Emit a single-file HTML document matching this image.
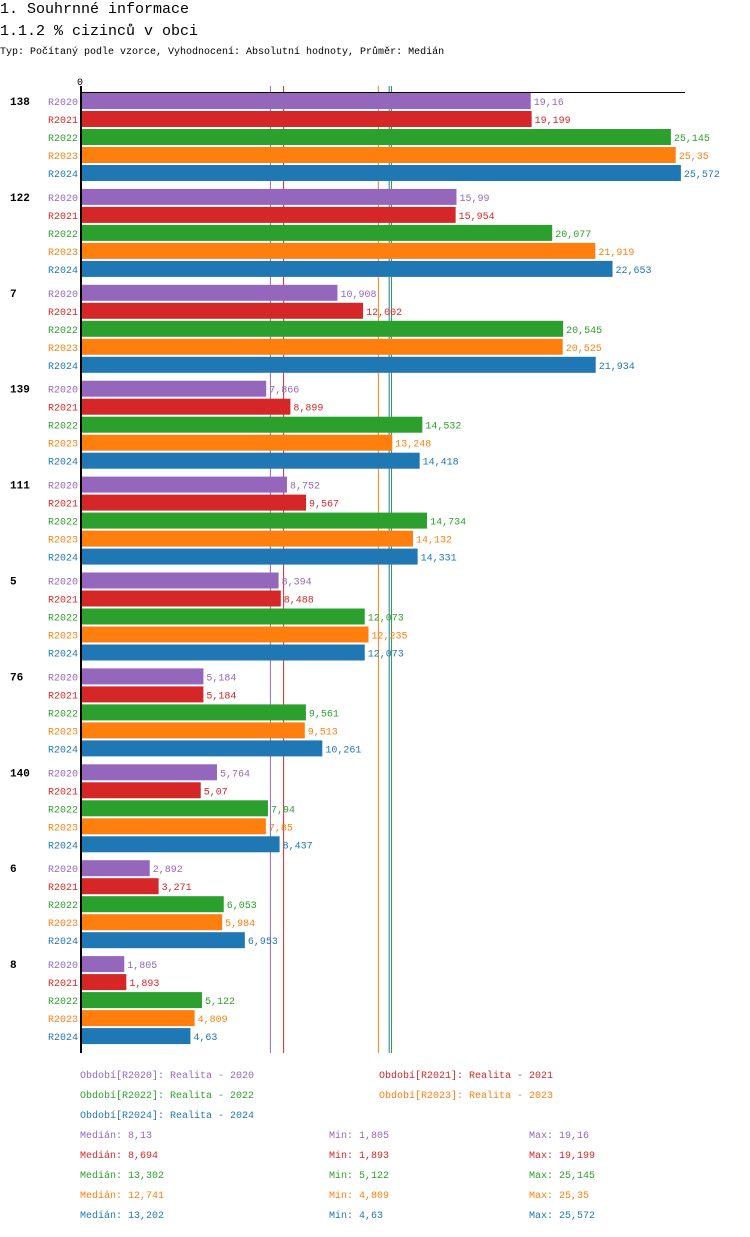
<!DOCTYPE html>
<html><head><meta charset="utf-8"><style>
body{margin:0;background:#fff;width:750px;height:1232px;overflow:hidden;font-family:"Liberation Mono",monospace;}
svg text{font-family:"Liberation Mono",monospace;}
</style></head><body>
<svg id="chart" width="750" height="1232" xmlns="http://www.w3.org/2000/svg">
<text x="0" y="13" font-size="15">1. Souhrnné informace</text>
<text x="0" y="35" font-size="15">1.1.2 % cizinců v obci</text>
<text x="0" y="54" font-size="10">Typ: Počítaný podle vzorce, Vyhodnocení: Absolutní hodnoty, Průměr: Medián</text>
<g id="plot"></g>
</svg>
<script>
const categories=["138","122","7","139","111","5","76","140","6","8"];
const seriesNames=["R2020","R2021","R2022","R2023","R2024"];
const seriesColors=["#9467bd","#d62728","#2ca02c","#ff7f0e","#1f77b4"];
const r2020=[19.16,15.99,10.908,7.866,8.752,8.394,5.184,5.764,2.892,1.805];
const r2021=[19.199,15.954,12.002,8.899,9.567,8.488,5.184,5.07,3.271,1.893];
const r2022=[25.145,20.077,20.545,14.532,14.734,12.073,9.561,7.94,6.053,5.122];
const r2023=[25.35,21.919,20.525,13.248,14.132,12.235,9.513,7.85,5.984,4.809];
const r2024=[25.572,22.653,21.934,14.418,14.331,12.073,10.261,8.437,6.953,4.63];
const medians=[8.13,8.694,13.302,12.741,13.202];
const mins=[1.805,1.893,5.122,4.809,4.63];
const maxs=[19.16,19.199,25.145,25.35,25.572];
const legendLabels=["Období[R2020]: Realita - 2020","Období[R2021]: Realita - 2021","Období[R2022]: Realita - 2022","Období[R2023]: Realita - 2023","Období[R2024]: Realita - 2024"];

const series=[r2020,r2021,r2022,r2023,r2024];
const NS="http://www.w3.org/2000/svg";
const g=document.getElementById('plot');
const x0=82, k=23.42;
const xs=v=>x0+v*k;
const groupY=i=>93+i*95.9;
const barY=(i,s)=>groupY(i)+s*18;
const fmt=v=>String(v).replace('.',',');
function el(tag,attrs,txt){const e=document.createElementNS(NS,tag);for(const a in attrs)e.setAttribute(a,attrs[a]);if(txt!==undefined)e.textContent=txt;g.appendChild(e);return e;}

const t0=el('text',{x:77,y:85,'font-size':10},'0');



medians.forEach((m,s)=>{
  const l=el('line',{x1:xs(m)-2,x2:xs(m)-2,y1:86,y2:1053,stroke:seriesColors[s],'stroke-width':1});
  
  
});

categories.forEach((c,i)=>{
  const gl=el('text',{x:10,y:groupY(i)+12,'font-size':11,'font-weight':'bold'},c);
  
  
  series.forEach((arr,s)=>{
    const y=barY(i,s);
    const sl=el('text',{x:78,y:y+12,'font-size':10,'text-anchor':'end',fill:seriesColors[s]},seriesNames[s]);
    
    
    const r=el('rect',{x:x0,y:y,width:xs(arr[i])-x0,height:16,fill:seriesColors[s]});
    
    
    const vl=el('text',{x:xs(arr[i])+3,y:y+12,'font-size':10,fill:seriesColors[s]},fmt(arr[i]));
    
    
  });
});
const ax=el('line',{x1:81,x2:81,y1:86,y2:1053,stroke:'#000','stroke-width':2});


const tx=el('line',{x1:80,x2:685,y1:92.5,y2:92.5,stroke:'#000','stroke-width':1});



const legPos=[[80,1078],[379,1078],[80,1098],[379,1098],[80,1118]];
legendLabels.forEach((t,s)=>{
  const e=el('text',{x:legPos[s][0],y:legPos[s][1],'font-size':10,fill:seriesColors[s]},t);
  
  
});
seriesNames.forEach((n,s)=>{
  const y=1138+s*20;
  const a=el('text',{x:80,y:y,'font-size':10,fill:seriesColors[s]},'Medián: '+fmt(medians[s]));
  
  
  const b=el('text',{x:329,y:y,'font-size':10,fill:seriesColors[s]},'Min: '+fmt(mins[s]));
  
  
  const c=el('text',{x:529,y:y,'font-size':10,fill:seriesColors[s]},'Max: '+fmt(maxs[s]));
  
  
});
</script>
</body></html>
